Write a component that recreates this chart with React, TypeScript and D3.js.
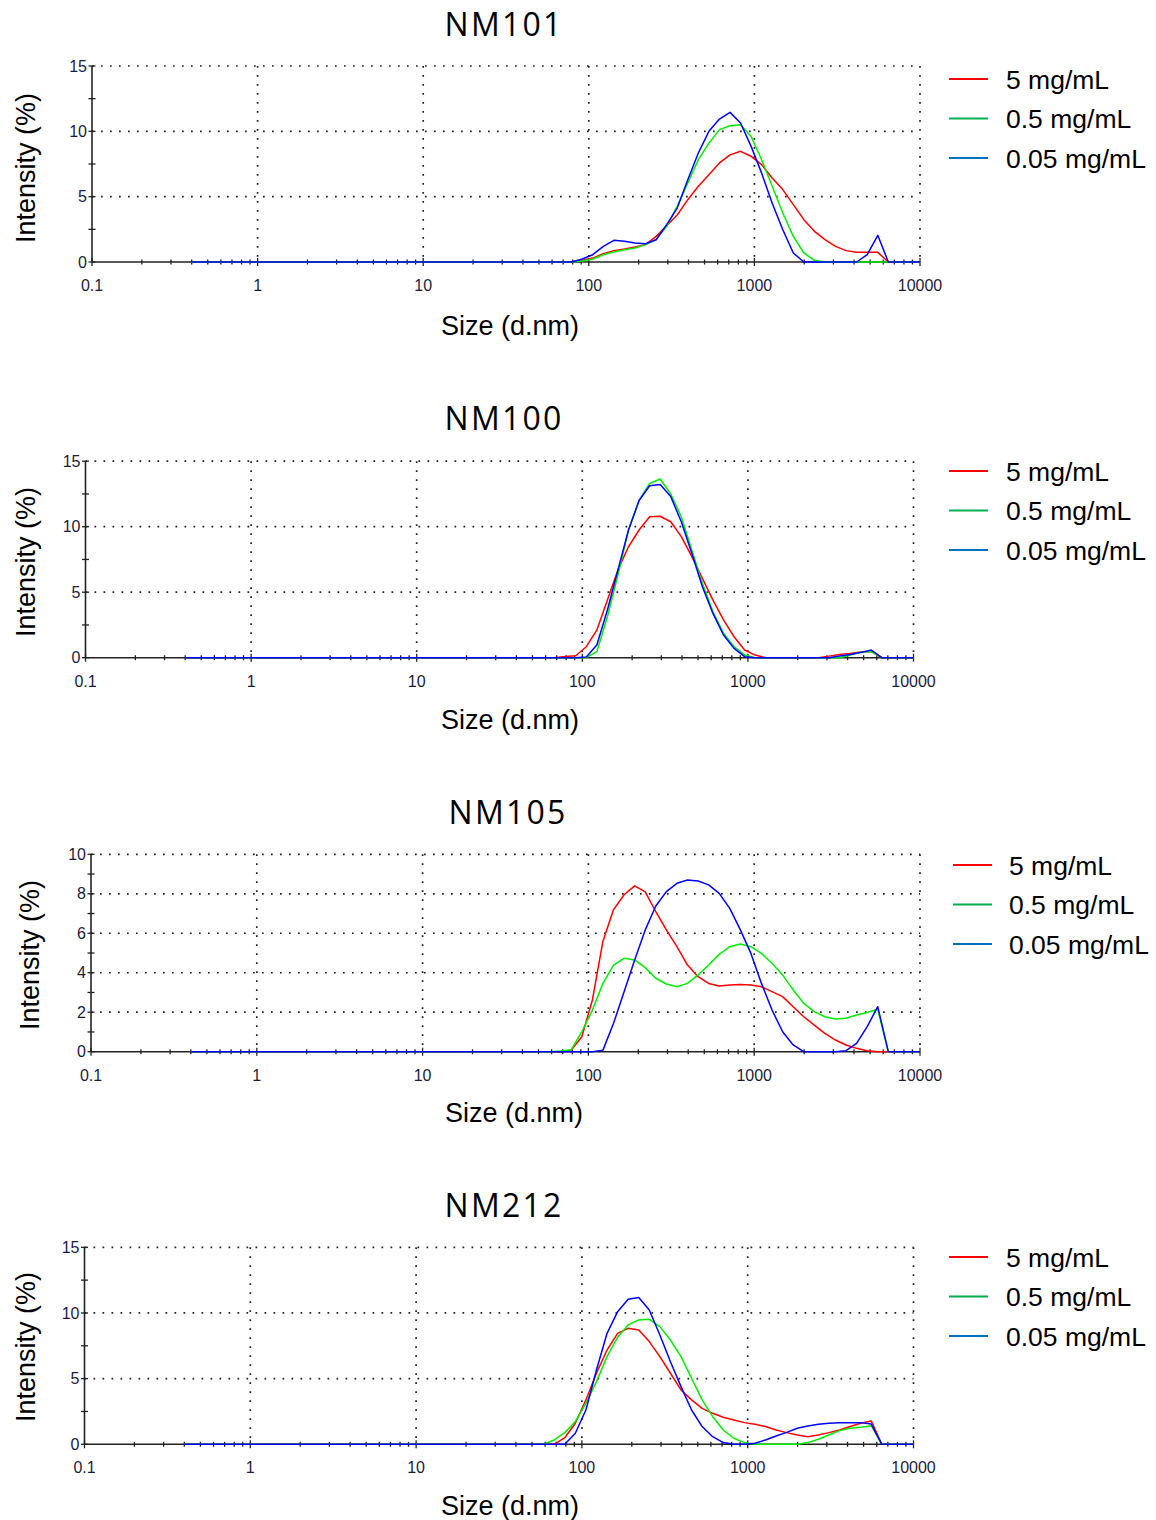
import React from 'react';
import * as d3 from 'd3';

// Zetasizer size classes (d.nm)
const SIZES = [0.4, 0.4632, 0.5365, 0.6213, 0.7195, 0.8332, 0.9649, 1.117, 1.294, 1.499,
  1.736, 2.01, 2.328, 2.696, 3.122, 3.615, 4.187, 4.849, 5.615, 6.503,
  7.531, 8.721, 10.1, 11.7, 13.54, 15.69, 18.17, 21.04, 24.36, 28.21,
  32.67, 37.84, 43.82, 50.75, 58.77, 68.06, 78.82, 91.28, 105.7, 122.4,
  141.8, 164.2, 190.1, 220.2, 255, 295.3, 342, 396.1, 458.7, 531.2,
  615.1, 712.4, 825, 955.4, 1106, 1281, 1484, 1718, 1990, 2305,
  2669, 3091, 3580, 4145, 4801, 5560, 6439, 7456, 8635, 10000];

const X_TICK_VALUES = [0.1, 1, 10, 100, 1000, 10000];
const X_TICK_LABELS = ['0.1', '1', '10', '100', '1000', '10000'];
const LEGEND_LABELS = ['5 mg/mL', '0.5 mg/mL', '0.05 mg/mL'];
const TITLES = ['NM101', 'NM100', 'NM105', 'NM212'];
const X_LABEL = 'Size (d.nm)';
const Y_LABEL = 'Intensity (%)';

// NM101
const NM101_5 = [0,0,0,0,0,0,0,0,0,0, 0,0,0,0,0,0,0,0,0,0, 0,0,0,0,0,0,0,0,0,0, 0,0,0,0,
  0,0,0,0.13,0.3,0.64,0.87,1.0,1.15,1.33,1.96,2.78,3.6,4.77,5.8,6.68,7.58,8.2,8.47,8.09,7.45,6.43,5.54,4.39,3.24,2.35,1.71,1.2,0.87,0.74,0.74,0.74,0,0,0,0];
const NM101_05 = [0,0,0,0,0,0,0,0,0,0, 0,0,0,0,0,0,0,0,0,0, 0,0,0,0,0,0,0,0,0,0, 0,0,0,0,
  0,0,0,0.08,0.23,0.56,0.77,0.94,1.07,1.33,1.71,2.73,4.26,6.05,7.83,9.1,10.13,10.43,10.5,9.6,7.83,5.79,3.75,1.96,0.69,0.13,0,0,0,0,0,0,0,0,0,0];
const NM101_005 = [0,0,0,0,0,0,0,0,0,0, 0,0,0,0,0,0,0,0,0,0, 0,0,0,0,0,0,0,0,0,0, 0,0,0,0,
  0,0,0,0.23,0.56,1.2,1.66,1.58,1.45,1.4,1.7,2.86,4.13,6.3,8.34,10.0,10.94,11.45,10.64,8.85,6.8,4.5,2.47,0.69,0,0,0,0,0,0,0.56,2.04,0,0,0,0];

// NM100
const NM100_5 = [0,0,0,0,0,0,0,0,0,0, 0,0,0,0,0,0,0,0,0,0, 0,0,0,0,0,0,0,0,0,0, 0,0,0,0,
  0,0,0.1,0.15,0.84,2.1,4.4,6.7,8.47,9.75,10.76,10.8,10.38,9.24,7.71,6.06,4.4,2.88,1.6,0.59,0.2,0,0,0,0,0,0,0.12,0.25,0.33,0.43,0.48,0,0,0,0];
const NM100_05 = [0,0,0,0,0,0,0,0,0,0, 0,0,0,0,0,0,0,0,0,0, 0,0,0,0,0,0,0,0,0,0, 0,0,0,0,
  0,0,0,0,0,0.46,3.13,6.31,9.75,12.0,13.3,13.64,12.5,10.76,8.2,5.67,3.5,1.86,0.84,0.2,0,0,0,0,0,0,0,0,0,0.2,0.43,0.46,0,0,0,0];
const NM100_005 = [0,0,0,0,0,0,0,0,0,0, 0,0,0,0,0,0,0,0,0,0, 0,0,0,0,0,0,0,0,0,0, 0,0,0,0,
  0,0,0,0,0.05,0.97,3.64,6.7,9.75,12.0,13.13,13.23,12.3,10.38,7.96,5.42,3.38,1.73,0.71,0.08,0,0,0,0,0,0,0,0,0.13,0.25,0.4,0.58,0,0,0,0];

// NM105
const NM105_5 = [0,0,0,0,0,0,0,0,0,0, 0,0,0,0,0,0,0,0,0,0, 0,0,0,0,0,0,0,0,0,0, 0,0,0,0,
  0,0,0.08,0.76,2.62,5.6,7.2,7.95,8.4,8.1,7.09,6.17,5.32,4.39,3.8,3.46,3.33,3.38,3.4,3.38,3.29,3.04,2.79,2.28,1.77,1.35,0.93,0.59,0.34,0.17,0.05,0,0,0,0,0];
const NM105_05 = [0,0,0,0,0,0,0,0,0,0, 0,0,0,0,0,0,0,0,0,0, 0,0,0,0,0,0,0,0,0,0, 0,0,0,0,
  0,0.03,0.1,1.01,2.11,3.46,4.39,4.73,4.65,4.26,3.72,3.43,3.29,3.46,3.89,4.39,4.93,5.32,5.46,5.32,4.98,4.48,3.89,3.13,2.45,2.03,1.77,1.66,1.69,1.86,1.99,2.15,0,0,0,0];
const NM105_005 = [0,0,0,0,0,0,0,0,0,0, 0,0,0,0,0,0,0,0,0,0, 0,0,0,0,0,0,0,0,0,0, 0,0,0,0,
  0,0,0,0,0,0.08,1.44,3.04,4.65,6.17,7.38,8.11,8.53,8.7,8.65,8.45,8.02,7.26,6.17,4.98,3.46,2.11,1.01,0.34,0,0,0,0,0.05,0.42,1.27,2.28,0,0,0,0];

// NM212
const NM212_5 = [0,0,0,0,0,0,0,0,0,0, 0,0,0,0,0,0,0,0,0,0, 0,0,0,0,0,0,0,0,0,0, 0,0,0,0,
  0,0,0.5,1.6,3.38,5.41,7.18,8.45,8.83,8.71,7.82,6.68,5.41,4.14,3.38,2.74,2.36,2.06,1.85,1.65,1.52,1.35,1.09,0.89,0.71,0.58,0.71,0.89,1.09,1.35,1.6,1.78,0,0,0,0];
const NM212_05 = [0,0,0,0,0,0,0,0,0,0, 0,0,0,0,0,0,0,0,0,0, 0,0,0,0,0,0,0,0,0,0, 0,0,0,0,
  0,0.33,0.89,1.73,3.12,4.77,6.68,8.15,9.09,9.47,9.52,8.96,7.94,6.68,5.03,3.38,2.1,1.09,0.46,0.13,0,0,0,0,0,0.13,0.38,0.71,1.04,1.22,1.29,1.42,0,0,0,0];
const NM212_005 = [0,0,0,0,0,0,0,0,0,0, 0,0,0,0,0,0,0,0,0,0, 0,0,0,0,0,0,0,0,0,0, 0,0,0,0,
  0,0,0,0.84,2.61,5.66,8.45,10.1,11.04,11.17,10.23,8.32,6.29,4.39,2.61,1.35,0.58,0.13,0,0,0.08,0.33,0.63,0.91,1.22,1.4,1.52,1.6,1.65,1.65,1.65,1.55,0,0,0,0];

const LINE_COLORS = ['#ff0000', '#00ee00', '#0000ff'];
const LEGEND_COLORS = ['#ff0000', '#00b050', '#0070c0'];

const PANELS = [
  { title: TITLES[0], series: [NM101_5, NM101_05, NM101_005], ymax: 15, minor: 2.5, major: 5,
    x0: 92, x1: 920, y0: 262, ytop: 66, tx: 504, ty: 36, ylx: 25, yly: 168, xlx: 510, xly: 335,
    lx0: 949, lx1: 988, ltx: 1006, ly: 79 },
  { title: TITLES[1], series: [NM100_5, NM100_05, NM100_005], ymax: 15, minor: 2.5, major: 5,
    x0: 85.5, x1: 913.5, y0: 657.7, ytop: 461.2, tx: 504, ty: 430, ylx: 25, yly: 562, xlx: 510, xly: 729,
    lx0: 949, lx1: 988, ltx: 1006, ly: 471 },
  { title: TITLES[2], series: [NM105_5, NM105_05, NM105_005], ymax: 10, minor: 1, major: 2,
    x0: 91, x1: 920, y0: 1051.7, ytop: 854.3, tx: 508, ty: 824, ylx: 29, yly: 955, xlx: 514, xly: 1122,
    lx0: 953, lx1: 992, ltx: 1009, ly: 865 },
  { title: TITLES[3], series: [NM212_5, NM212_05, NM212_005], ymax: 15, minor: 2.5, major: 5,
    x0: 84.5, x1: 913.5, y0: 1444.3, ytop: 1247.3, tx: 504, ty: 1217, ylx: 25, yly: 1347, xlx: 510, xly: 1515,
    lx0: 949, lx1: 988, ltx: 1006, ly: 1257 },
];

const AXIS = '#222';
const TICK_FONT = '"Liberation Sans", Arial, sans-serif';

function isDecade(t: number) {
  const l = Math.log10(t);
  return Math.abs(l - Math.round(l)) < 1e-6;
}

function Panel({ cfg }: { cfg: any }) {
  const x = d3.scaleLog().domain([0.1, 10000]).range([cfg.x0, cfg.x1]);
  const y = d3.scaleLinear().domain([0, cfg.ymax]).range([cfg.y0, cfg.ytop]);
  const line = d3.line<[number, number]>().x(d => x(d[0])).y(d => y(d[1]));
  const xticks = x.ticks();
  const yticks = d3.range(0, cfg.ymax + 1e-6, cfg.minor);
  const ylabels = d3.range(0, cfg.ymax + 1e-6, cfg.major);
  const dots = { stroke: '#222', strokeWidth: 1.7, strokeDasharray: '1.7 7.3', fill: 'none' };
  return (
    <g>
      {/* grid */}
      {ylabels.filter(v => v > 0).map(v => (
        <line key={'hg' + v} x1={cfg.x0} x2={cfg.x1} y1={y(v)} y2={y(v)} {...dots} />
      ))}
      {X_TICK_VALUES.filter(v => v > 0.1).map(v => (
        <line key={'vg' + v} x1={x(v)} x2={x(v)} y1={cfg.ytop} y2={cfg.y0} {...dots} />
      ))}
      {/* axes */}
      <line x1={cfg.x0} x2={cfg.x1} y1={cfg.y0} y2={cfg.y0} stroke={AXIS} strokeWidth={1.6} />
      <line x1={cfg.x0} x2={cfg.x0} y1={cfg.y0} y2={cfg.ytop} stroke={AXIS} strokeWidth={1.6} />
      {xticks.map((t, i) => {
        const maj = isDecade(t);
        return <line key={'xt' + i} x1={x(t)} x2={x(t)} y1={cfg.y0 - (maj ? 4 : 2.5)} y2={cfg.y0 + (maj ? 4 : 2.5)} stroke={AXIS} strokeWidth={1.3} />;
      })}
      {yticks.map((t, i) => (
        <line key={'yt' + i} x1={cfg.x0 - 3.5} x2={cfg.x0 + 3.5} y1={y(t)} y2={y(t)} stroke={AXIS} strokeWidth={1.3} />
      ))}
      {X_TICK_VALUES.map((v, i) => (
        <text key={'xl' + i} x={x(v)} y={cfg.y0 + 29} textAnchor="middle" fontFamily={TICK_FONT} fontSize={16} fill="#1c1c3a">{X_TICK_LABELS[i]}</text>
      ))}
      {ylabels.map((v, i) => (
        <text key={'yl' + i} x={cfg.x0 - 5} y={y(v) + 5.7} textAnchor="end" fontFamily={TICK_FONT} fontSize={16} fill="#1c1c3a">{String(v)}</text>
      ))}
      {/* data */}
      {cfg.series.map((vals: number[], si: number) => (
        <path key={'s' + si} d={line(SIZES.map((s, i) => [s, vals[i]] as [number, number])) || ''}
          fill="none" stroke={LINE_COLORS[si]} strokeWidth={1.5} strokeLinejoin="round" />
      ))}
      {/* labels */}
      <text x={cfg.tx} y={cfg.ty} textAnchor="middle" fontFamily='"Open Sans", sans-serif' fontSize={32} letterSpacing={2.2} fill="#000">{cfg.title}</text>
      <text x={cfg.xlx} y={cfg.xly} textAnchor="middle" fontFamily={TICK_FONT} fontSize={27} fill="#000">{X_LABEL}</text>
      <text transform={`translate(${cfg.ylx + 10},${cfg.yly}) rotate(-90)`} textAnchor="middle" fontFamily={TICK_FONT} fontSize={27} fill="#000">{Y_LABEL}</text>
      {/* legend */}
      {LEGEND_LABELS.map((lab, i) => {
        const ly = cfg.ly + i * 39.5;
        return (
          <g key={'lg' + i}>
            <line x1={cfg.lx0} x2={cfg.lx1} y1={ly} y2={ly} stroke={LEGEND_COLORS[i]} strokeWidth={2} />
            <text x={cfg.ltx} y={ly + 9.5} fontFamily={TICK_FONT} fontSize={26.5} fill="#000">{lab}</text>
          </g>
        );
      })}
    </g>
  );
}

export default function App() {
  return (
    <svg width={1156} height={1520} viewBox="0 0 1156 1520" style={{ position: 'absolute', left: 0, top: 0, background: '#fff' }}>
      <rect x={0} y={0} width={1156} height={1520} fill="#fff" />
      {PANELS.map((p, i) => <Panel key={i} cfg={p} />)}
    </svg>
  );
}
